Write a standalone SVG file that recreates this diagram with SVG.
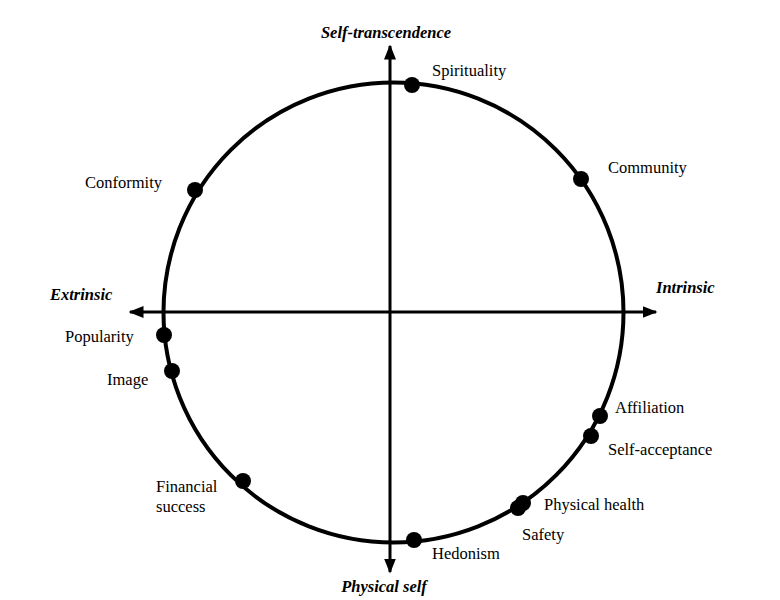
<svg xmlns="http://www.w3.org/2000/svg" width="780" height="600" viewBox="0 0 780 600">
<style>
text{font-family:"Liberation Serif",serif;font-size:16.5px;fill:#000}
.ax{font-weight:bold;font-style:italic}
.d{fill:#000}
</style>
<defs><marker id="ar" viewBox="0 0 10 10" refX="9" refY="5" markerWidth="5" markerHeight="5" orient="auto"><path d="M0,1 L10,5 L0,9 z" fill="#000"/></marker></defs>
<rect width="780" height="600" fill="#fff"/>
<g id="connectors" stroke="#000" fill="none">
<circle cx="393.5" cy="312.5" r="230" stroke-width="4"/>
<line x1="390" y1="312" x2="390" y2="46" stroke-width="3" marker-end="url(#ar)"/>
<line x1="390" y1="312" x2="390" y2="572" stroke-width="3" marker-end="url(#ar)"/>
<line x1="390" y1="312" x2="130" y2="312" stroke-width="3" marker-end="url(#ar)"/>
<line x1="390" y1="312" x2="656" y2="312" stroke-width="3" marker-end="url(#ar)"/>
</g>
<g id="axes">
<text class="ax" x="386" y="38" text-anchor="middle">Self-transcendence</text>
<text class="ax" x="384" y="592" text-anchor="middle">Physical self</text>
<text class="ax" x="50" y="300">Extrinsic</text>
<text class="ax" x="656" y="293">Intrinsic</text>
</g>
<g id="spirituality"><circle class="d" cx="412" cy="85" r="8"/><text x="432" y="76">Spirituality</text></g>
<g id="community"><circle class="d" cx="581" cy="179" r="8"/><text x="608" y="173">Community</text></g>
<g id="conformity"><circle class="d" cx="195" cy="190" r="8"/><text x="85" y="188">Conformity</text></g>
<g id="popularity"><circle class="d" cx="164" cy="335" r="8"/><text x="65" y="342">Popularity</text></g>
<g id="image"><circle class="d" cx="172" cy="371" r="8"/><text x="107" y="385">Image</text></g>
<g id="financial"><circle class="d" cx="243" cy="481" r="8"/><text x="156" y="492">Financial</text><text x="156" y="512">success</text></g>
<g id="hedonism"><circle class="d" cx="414" cy="540" r="8"/><text x="432" y="559">Hedonism</text></g>
<g id="safety"><circle class="d" cx="518" cy="508" r="8"/><text x="522" y="540">Safety</text></g>
<g id="physicalhealth"><circle class="d" cx="523" cy="503" r="8"/><text x="544" y="510">Physical health</text></g>
<g id="selfacceptance"><circle class="d" cx="591" cy="436" r="8"/><text x="608" y="455">Self-acceptance</text></g>
<g id="affiliation"><circle class="d" cx="600" cy="416" r="8"/><text x="615" y="413">Affiliation</text></g>
</svg>
